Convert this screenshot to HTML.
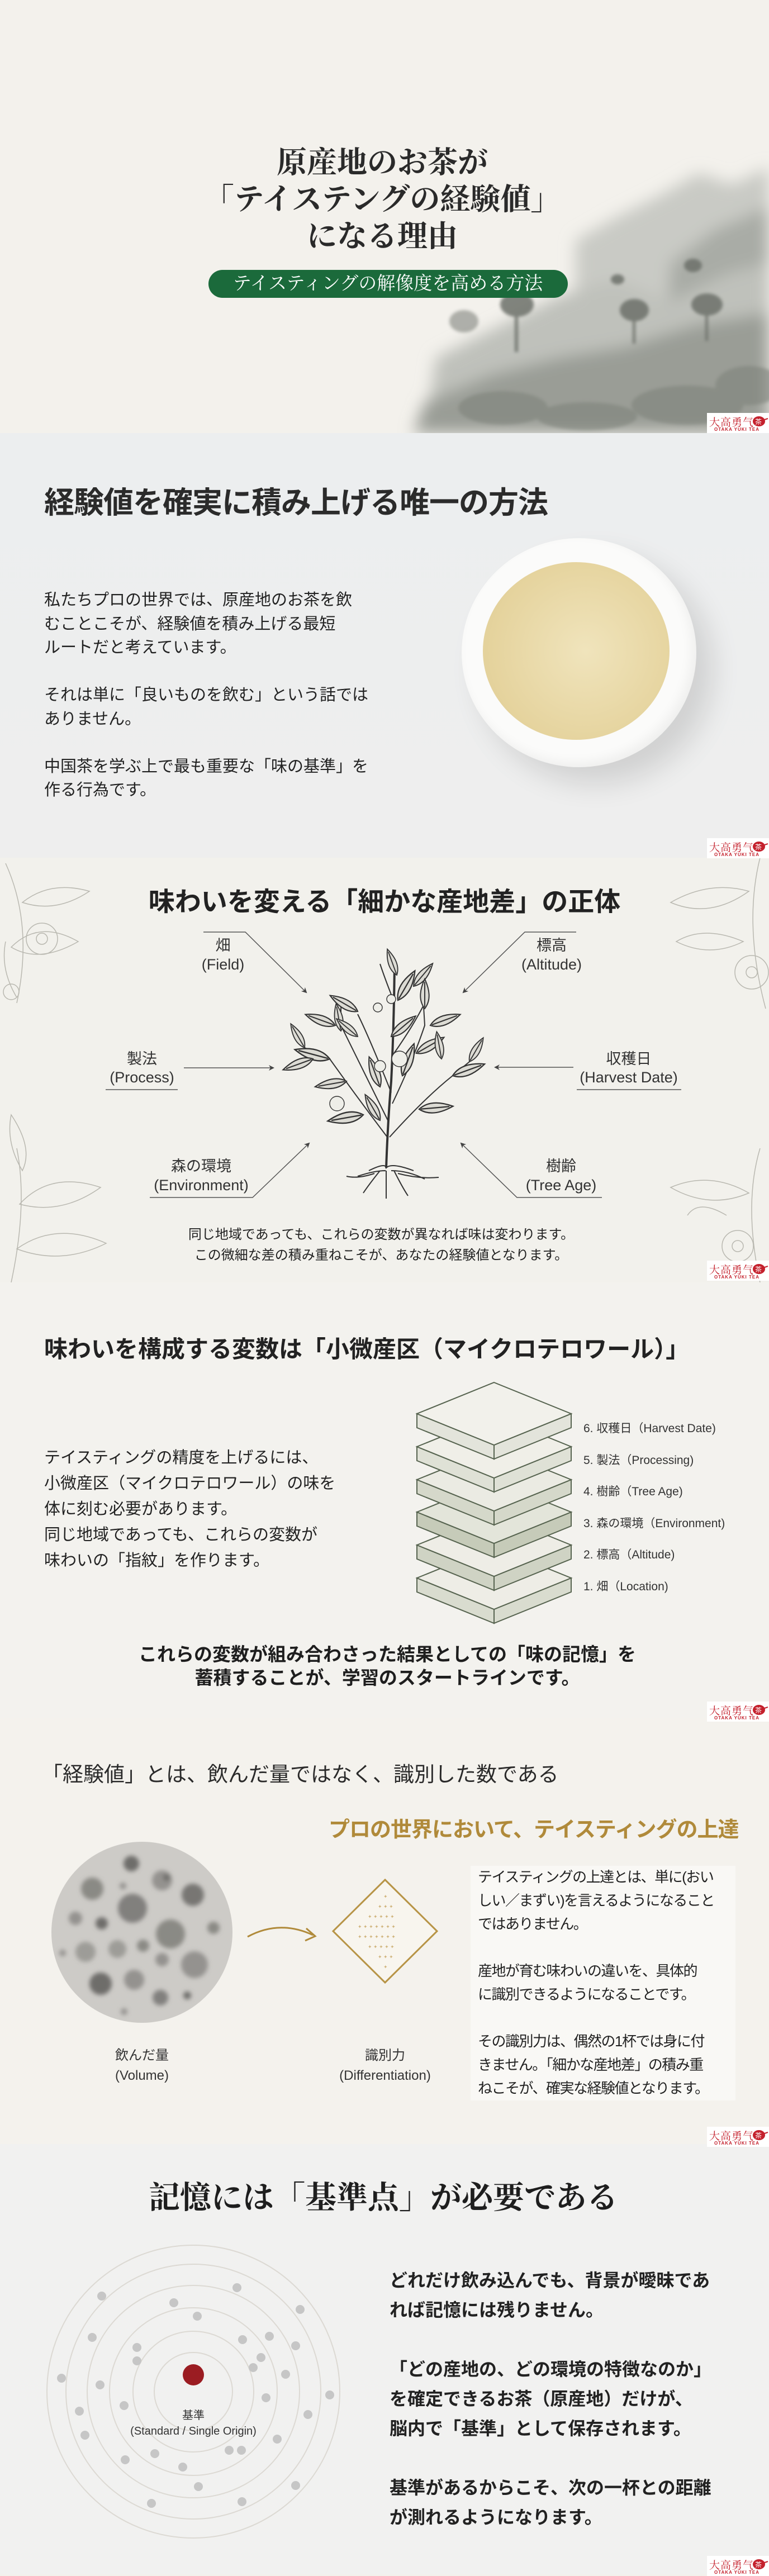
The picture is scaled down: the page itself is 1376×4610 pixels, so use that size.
<!DOCTYPE html>
<html><head><meta charset="utf-8">
<style>
*{margin:0;padding:0;box-sizing:border-box}
body{width:1376px;height:4607px;position:relative;overflow:hidden;background:#f2f1ec;font-family:"Liberation Sans","Noto Sans CJK JP",sans-serif;color:#222}
.sec{position:absolute;left:0;width:1376px;overflow:hidden}
.t{position:absolute;white-space:nowrap}
.c{transform:translateX(-50%);text-align:center}
.serif{font-family:"Liberation Serif","Noto Serif CJK SC",serif}
.logo{position:absolute;right:0;width:111px;height:36px;background:#fff;z-index:5}
.logo .a{position:absolute;left:4px;top:2px;font-family:"Liberation Serif","Noto Serif CJK SC",serif;font-size:19px;color:#c4202c;letter-spacing:1px}
.logo .b{position:absolute;left:13px;top:25px;font-size:8px;color:#c4202c;letter-spacing:1px;font-weight:bold}
.logo svg{position:absolute;left:80px;top:2px}
</style></head><body>

<!-- S1 hero -->
<div class="sec" style="top:0;height:775px;background:#f3f1ec">
<svg width="1376" height="775" style="position:absolute;left:0;top:0">
<defs>
<filter id="bl"><feGaussianBlur stdDeviation="14"/></filter>
<filter id="bl2"><feGaussianBlur stdDeviation="3"/></filter>
<linearGradient id="fade" x1="0" x2="1" y1="0" y2="0"><stop offset="0" stop-color="#f3f1ec" stop-opacity="1"/><stop offset="0.25" stop-color="#f3f1ec" stop-opacity="0"/></linearGradient>
</defs>
<g filter="url(#bl)">
<path d="M1030,430 L1100,390 L1180,350 L1250,310 L1310,330 L1376,300 L1376,775 L1030,775Z" fill="#c9cac5"/>
<path d="M1200,470 L1280,410 L1376,370 L1376,775 L1180,775Z" fill="#a9aca6"/>
<path d="M780,640 L900,580 L1000,530 L1100,500 L1200,540 L1300,490 L1376,470 L1376,775 L760,775Z" fill="#bfc1bb"/>
<path d="M760,720 L880,670 L1000,640 L1120,620 L1250,580 L1376,560 L1376,775 L740,775Z" fill="#9a9d96"/>
</g>
<g filter="url(#bl2)" fill="#6d716a" opacity="0.85">
<ellipse cx="925" cy="545" rx="30" ry="22"/><rect x="921" y="560" width="6" height="70"/>
<ellipse cx="1135" cy="555" rx="26" ry="20"/><rect x="1132" y="570" width="5" height="45"/>
<ellipse cx="1265" cy="545" rx="28" ry="20"/><rect x="1262" y="560" width="5" height="50"/>
<ellipse cx="1240" cy="475" rx="16" ry="12"/><ellipse cx="1105" cy="500" rx="12" ry="9"/>
<ellipse cx="830" cy="575" rx="26" ry="20" opacity=".6"/>
</g>
<g filter="url(#bl2)" fill="#7f837b" opacity="0.6">
<ellipse cx="900" cy="730" rx="80" ry="30"/><ellipse cx="1050" cy="745" rx="90" ry="25"/><ellipse cx="1230" cy="725" rx="100" ry="35"/><ellipse cx="1340" cy="690" rx="60" ry="35"/>
</g>
<rect x="0" y="0" width="1376" height="775" fill="url(#fade)"/>
</svg>
<div class="t c serif" style="left:684px;top:258px;font-size:54px;line-height:66px;color:#2a2a2a;font-weight:bold">原産地のお茶が<br>「テイステングの経験値」<br>になる理由</div>
<div style="position:absolute;left:373px;top:483px;width:643px;height:50px;border-radius:25px;background:#1b6a3b"></div>
<div class="t c serif" style="left:694px;top:486px;font-size:33px;line-height:44px;color:#fff">テイスティングの解像度を高める方法</div>
</div>

<!-- S2 -->
<div class="sec" style="top:775px;height:760px;background:linear-gradient(180deg,#eceeef,#eeeeee)">
<div class="t" style="left:79px;top:80px;font-size:54px;font-weight:bold;color:#2b2b2b;letter-spacing:-1px">経験値を確実に積み上げる唯一の方法</div>
<div class="t" style="left:79px;top:278px;font-size:29px;line-height:42.5px;color:#222">私たちプロの世界では、原産地のお茶を飲<br>むことこそが、経験値を積み上げる最短<br>ルートだと考えています。<br><br>それは単に「良いものを飲む」という話では<br>ありません。<br><br>中国茶を学ぶ上で最も重要な「味の基準」を<br>作る行為です。</div>
<div style="position:absolute;left:826px;top:188px;width:420px;height:410px;border-radius:50%;background:#fbfbfa;box-shadow:30px 30px 50px rgba(0,0,0,0.12),inset -8px -8px 20px rgba(0,0,0,0.05)"></div>
<div style="position:absolute;left:864px;top:231px;width:334px;height:318px;border-radius:50%;background:radial-gradient(circle at 55% 50%,#f0e4bc,#e5d39d 70%,#dccb95)"></div>
</div>

<!-- S3 -->
<div class="sec" style="top:1535px;height:760px;background:#f2f1ec">
<svg width="1376" height="760" style="position:absolute;left:0;top:0" fill="none" stroke="#b9b8b0" stroke-width="1.5">
<path d="M10,10 Q60,120 30,260"/><path d="M40,80 Q90,40 160,60 Q100,100 40,80Z"/><path d="M20,160 Q70,110 140,150 Q70,190 20,160Z"/><circle cx="75" cy="145" r="28"/><circle cx="75" cy="145" r="10"/><path d="M30,250 Q0,200 10,150"/><circle cx="20" cy="240" r="14"/>
<path d="M1360,0 Q1330,120 1370,270"/><path d="M1340,60 Q1270,40 1200,80 Q1270,110 1340,60Z"/><path d="M1330,150 Q1260,120 1210,150 Q1270,180 1330,150Z"/><circle cx="1345" cy="205" r="30"/><circle cx="1345" cy="205" r="10"/>
<path d="M20,760 Q50,620 30,520"/><path d="M35,620 Q90,560 180,590 Q110,640 35,620Z"/><path d="M30,700 Q100,650 190,690 Q110,730 30,700Z"/><path d="M40,560 Q10,510 20,460 Q60,520 40,560Z"/>
<path d="M1360,760 Q1330,620 1360,520"/><path d="M1340,600 Q1270,560 1200,590 Q1270,630 1340,600Z"/><circle cx="1320" cy="695" r="28"/><circle cx="1320" cy="695" r="10"/><path d="M1300,640 Q1250,610 1230,640"/>
</svg>
<div class="t c" style="left:688px;top:40px;font-size:47px;font-weight:bold;color:#222">味わいを変える「細かな産地差」の正体</div>
<svg width="1376" height="760" style="position:absolute;left:0;top:0" stroke="#555" stroke-width="1.5" fill="none">
<defs><marker id="ah" markerWidth="10" markerHeight="10" refX="8" refY="5" orient="auto" markerUnits="userSpaceOnUse"><path d="M0,0 L10,5 L0,10 L3,5Z" fill="#444" stroke="none"/></marker></defs>
<path d="M364,133 L439,133 L548,241" marker-end="url(#ah)"/>
<path d="M1031,133 L939,133 L829,241" marker-end="url(#ah)"/>
<path d="M329,376 L489,376" marker-end="url(#ah)"/>
<path d="M1026,375 L886,375" marker-end="url(#ah)"/>
<path d="M268,608 L452,608 L553,511" marker-end="url(#ah)"/>
<path d="M1077,608 L925,608 L825,511" marker-end="url(#ah)"/>
<path d="M189,415 L318,415"/><path d="M1032,415 L1219,415"/>
</svg>
<div class="t c" style="left:399px;top:140px;font-size:27px;line-height:34px;color:#333">畑<br>(Field)</div>
<div class="t c" style="left:987px;top:140px;font-size:27px;line-height:34px;color:#333">標高<br>(Altitude)</div>
<div class="t c" style="left:254px;top:344px;font-size:27px;line-height:33px;color:#333">製法<br>(Process)</div>
<div class="t c" style="left:1125px;top:344px;font-size:27px;line-height:33px;color:#333">収穫日<br>(Harvest Date)</div>
<div class="t c" style="left:360px;top:535px;font-size:27px;line-height:34px;color:#333">森の環境<br>(Environment)</div>
<div class="t c" style="left:1004px;top:535px;font-size:27px;line-height:34px;color:#333">樹齢<br>(Tree Age)</div>
<svg width="1376" height="760" style="position:absolute;left:0;top:0" stroke="#333" stroke-width="2" fill="none">
<defs><path id="lf" d="M0,0 Q14,-11 38,0 Q14,11 0,0Z M2,0 L34,0" fill="#dcdbd4" stroke="#333" stroke-width="1.4"/></defs>
<path d="M691,555 Q694,470 700,400 Q705,300 706,185" stroke-width="4"/>
<path d="M693,500 Q640,430 590,360 L545,340"/>
<path d="M694,470 Q640,360 610,300 L610,260"/>
<path d="M700,420 Q660,320 640,280"/>
<path d="M697,500 Q760,430 810,390 L840,365"/>
<path d="M702,440 Q740,360 760,300 L757,250"/>
<path d="M705,350 Q740,300 760,260"/>
<path d="M706,260 Q690,220 680,190"/>
<path d="M660,560 Q690,545 691,555 Q700,545 740,560 M640,570 Q670,560 690,560 M700,560 Q730,560 760,575 M691,560 L691,610 M680,560 Q660,585 650,600 M705,560 Q720,590 730,605 M670,565 Q640,575 620,570 M712,565 Q750,575 785,572"/>
<use href="#lf" transform="translate(640,275) rotate(-150) scale(1.5)"/>
<use href="#lf" transform="translate(712,255) rotate(-60) scale(1.6)"/>
<use href="#lf" transform="translate(710,210) rotate(-110) scale(1.3)"/>
<use href="#lf" transform="translate(740,230) rotate(-50) scale(1.4)"/>
<use href="#lf" transform="translate(760,270) rotate(-90) scale(1.4)"/>
<use href="#lf" transform="translate(770,300) rotate(-20) scale(1.5)"/>
<use href="#lf" transform="translate(600,300) rotate(-160) scale(1.5)"/>
<use href="#lf" transform="translate(610,310) rotate(-100) scale(1.3)"/>
<use href="#lf" transform="translate(640,320) rotate(-140) scale(1.3)"/>
<use href="#lf" transform="translate(700,320) rotate(-40) scale(1.5)"/>
<use href="#lf" transform="translate(590,360) rotate(-165) scale(1.7)"/>
<use href="#lf" transform="translate(545,340) rotate(-120) scale(1.3)"/>
<use href="#lf" transform="translate(560,360) rotate(160) scale(1.5)"/>
<use href="#lf" transform="translate(620,400) rotate(170) scale(1.5)"/>
<use href="#lf" transform="translate(680,410) rotate(-110) scale(1.5)"/>
<use href="#lf" transform="translate(720,390) rotate(-70) scale(1.6)"/>
<use href="#lf" transform="translate(745,350) rotate(-30) scale(1.5)"/>
<use href="#lf" transform="translate(790,360) rotate(-100) scale(1.3)"/>
<use href="#lf" transform="translate(810,390) rotate(-20) scale(1.6)"/>
<use href="#lf" transform="translate(840,365) rotate(-60) scale(1.3)"/>
<use href="#lf" transform="translate(750,450) rotate(-5) scale(1.6)"/>
<use href="#lf" transform="translate(650,460) rotate(170) scale(1.7)"/>
<use href="#lf" transform="translate(680,470) rotate(-120) scale(1.4)"/>
<g fill="#eeeee8" stroke-width="1.4"><circle cx="700" cy="253" r="8"/><circle cx="676" cy="268" r="8"/><circle cx="715" cy="360" r="14"/><circle cx="603" cy="440" r="13"/><circle cx="680" cy="373" r="10"/></g>
</svg>
<div class="t c" style="left:682px;top:656px;font-size:24px;line-height:37px;color:#222">同じ地域であっても、これらの変数が異なれば味は変わります。<br>この微細な差の積み重ねこそが、あなたの経験値となります。</div>
</div>

<!-- S4 -->
<div class="sec" style="top:2295px;height:780px;background:#f3f2ee">
<div class="t" style="left:79px;top:86px;font-size:42px;font-weight:bold;color:#222">味わいを構成する変数は「小微産区（マイクロテロワール）」</div>
<div class="t" style="left:79px;top:291px;font-size:29px;line-height:46px;color:#222">テイスティングの精度を上げるには、<br>小微産区（マイクロテロワール）の味を<br>体に刻む必要があります。<br>同じ地域であっても、これらの変数が<br>味わいの「指紋」を作ります。</div>
<svg width="1376" height="780" style="position:absolute;left:0;top:0" stroke="#56634f" stroke-width="2">
<g>
<path d="M746,529 L884,585 L884,610 L746,554Z M1022,529 L884,585 L884,610 L1022,554Z" fill="#d9dccf"/>
<path d="M884,473 L1022,529 L884,585 L746,529Z" fill="#eeede6"/>
<path d="M746,529 L884,585 L884,610 L746,554Z M1022,529 L884,585 L884,610 L1022,554Z" fill="#cfd3c4" transform="translate(0,-59)"/>
<path d="M884,473 L1022,529 L884,585 L746,529Z" fill="#eeede6" transform="translate(0,-59)"/>
<path d="M746,529 L884,585 L884,610 L746,554Z M1022,529 L884,585 L884,610 L1022,554Z" fill="#c6cbb9" transform="translate(0,-118)"/>
<path d="M884,473 L1022,529 L884,585 L746,529Z" fill="#e3e5da" transform="translate(0,-118)"/>
<path d="M746,529 L884,585 L884,610 L746,554Z M1022,529 L884,585 L884,610 L1022,554Z" fill="#d5d8ca" transform="translate(0,-176)"/>
<path d="M884,473 L1022,529 L884,585 L746,529Z" fill="#ebebe3" transform="translate(0,-176)"/>
<path d="M746,529 L884,585 L884,610 L746,554Z M1022,529 L884,585 L884,610 L1022,554Z" fill="#dfe1d6" transform="translate(0,-235)"/>
<path d="M884,473 L1022,529 L884,585 L746,529Z" fill="#f0efe8" transform="translate(0,-235)"/>
<path d="M746,529 L884,585 L884,610 L746,554Z M1022,529 L884,585 L884,610 L1022,554Z" fill="#e3e4db" transform="translate(0,-294)"/>
<path d="M884,473 L1022,529 L884,585 L746,529Z" fill="#f2f1eb" transform="translate(0,-294)"/>
</g>
</svg>
<div class="t" style="left:1044px;top:234px;font-size:21px;line-height:56.6px;color:#333">6. 収穫日（Harvest Date)<br>5. 製法（Processing)<br>4. 樹齢（Tree Age)<br>3. 森の環境（Environment)<br>2. 標高（Altitude)<br>1. 畑（Location)</div>
<div class="t c" style="left:693px;top:645px;font-size:33px;line-height:42px;font-weight:bold;color:#1e1e1e">これらの変数が組み合わさった結果としての「味の記憶」を<br>蓄積することが、学習のスタートラインです。</div>
</div>

<!-- S5 -->
<div class="sec" style="top:3075px;height:762px;background:#f4f2ed">
<div class="t" style="left:75px;top:70px;font-size:37px;color:#2a2a2a">「経験値」とは、飲んだ量ではなく、識別した数である</div>
<div class="t" style="left:588px;top:168px;font-size:38px;font-weight:bold;color:#b08a3a;letter-spacing:-1px">プロの世界において、テイスティングの上達</div>
<svg width="1376" height="762" style="position:absolute;left:0;top:0">
<defs><filter id="sb"><feGaussianBlur stdDeviation="4"/></filter></defs>
<circle cx="254" cy="383" r="162" fill="#cdcbc7"/>
<g filter="url(#sb)" fill="#6e6d6a">
<circle cx="235" cy="260" r="14"/><circle cx="290" cy="290" r="18" opacity=".6"/><circle cx="165" cy="305" r="20" opacity=".7"/><circle cx="345" cy="316" r="20" opacity=".9"/><circle cx="237" cy="340" r="26" opacity=".8"/><circle cx="135" cy="358" r="12" opacity=".6"/><circle cx="182" cy="367" r="11"/><circle cx="305" cy="386" r="26" opacity=".7"/><circle cx="382" cy="375" r="11" opacity=".7"/><circle cx="210" cy="413" r="16" opacity=".5"/><circle cx="153" cy="418" r="18" opacity=".5"/><circle cx="256" cy="407" r="11" opacity=".7"/><circle cx="348" cy="441" r="24" opacity=".6"/><circle cx="290" cy="432" r="12" opacity=".6"/><circle cx="180" cy="475" r="20"/><circle cx="240" cy="468" r="18" opacity=".6"/><circle cx="287" cy="500" r="14" opacity=".8"/><circle cx="335" cy="496" r="7"/><circle cx="298" cy="285" r="6"/><circle cx="220" cy="300" r="6" opacity=".6"/><circle cx="112" cy="420" r="6" opacity=".6"/><circle cx="222" cy="525" r="6" opacity=".6"/>
</g>
<path d="M443,391 Q500,360 560,388" stroke="#b08a3a" stroke-width="3" fill="none"/>
<path d="M548,376 L564,390 L546,398" stroke="#b08a3a" stroke-width="3" fill="none"/>
<path d="M689,289 L782,381 L689,473 L596,381Z" stroke="#b79446" stroke-width="3" fill="#f8f5ee"/>
<g fill="#cfb37a" font-size="9">
<text x="686" y="322">✦</text>
<text x="676" y="340">✦ ✦ ✦</text>
<text x="658" y="358">✦ ✦ ✦ ✦ ✦</text>
<text x="640" y="376">✦ ✦ ✦ ✦ ✦ ✦ ✦</text>
<text x="640" y="394">✦ ✦ ✦ ✦ ✦ ✦ ✦</text>
<text x="658" y="412">✦ ✦ ✦ ✦ ✦</text>
<text x="676" y="430">✦ ✦ ✦</text>
<text x="686" y="448">✦</text>
</g>
</svg>
<div class="t c" style="left:254px;top:586px;font-size:24px;line-height:36px;color:#333">飲んだ量<br>(Volume)</div>
<div class="t c" style="left:689px;top:586px;font-size:24px;line-height:36px;color:#333">識別力<br>(Differentiation)</div>
<div style="position:absolute;left:842px;top:264px;width:474px;height:420px;background:#f9f8f5"></div>
<div class="t" style="left:855px;top:263px;font-size:26px;line-height:42px;color:#222;letter-spacing:-1.5px">テイスティングの上達とは、単に(おい<br>しい／まずい)を言えるようになること<br>ではありません。<br><br>産地が育む味わいの違いを、具体的<br>に識別できるようになることです。<br><br>その識別力は、偶然の1杯では身に付<br>きません。「細かな産地差」の積み重<br>ねこそが、確実な経験値となります。</div>
</div>

<!-- S6 -->
<div class="sec" style="top:3837px;height:770px;background:#f1f1f0">
<div class="t c serif" style="left:686px;top:52px;font-size:56px;color:#1e1e1e;font-weight:bold">記憶には「基準点」が必要である</div>
<svg width="1376" height="770" style="position:absolute;left:0;top:0">
<g fill="none" stroke="#dcd9d3" stroke-width="2">
<circle cx="346" cy="443" r="262"/><circle cx="346" cy="443" r="228"/><circle cx="346" cy="443" r="190"/><circle cx="346" cy="443" r="150"/><circle cx="346" cy="443" r="108"/><circle cx="346" cy="443" r="70"/>
</g>
<circle cx="346" cy="413" r="19" fill="#9b1c22"/>
<g fill="#c6c6c6">
<circle cx="424" cy="257" r="8"/><circle cx="182" cy="272" r="8"/><circle cx="311" cy="284" r="8"/><circle cx="537" cy="296" r="8"/><circle cx="353" cy="308" r="8"/><circle cx="165" cy="346" r="8"/><circle cx="482" cy="344" r="8"/><circle cx="434" cy="350" r="8"/><circle cx="529" cy="361" r="8"/><circle cx="245" cy="364" r="8"/><circle cx="245" cy="388" r="8"/><circle cx="467" cy="382" r="8"/><circle cx="453" cy="400" r="8"/><circle cx="511" cy="412" r="8"/><circle cx="110" cy="419" r="8"/><circle cx="179" cy="431" r="8"/><circle cx="590" cy="449" r="8"/><circle cx="476" cy="454" r="8"/><circle cx="222" cy="468" r="8"/><circle cx="142" cy="478" r="8"/><circle cx="551" cy="484" r="8"/><circle cx="152" cy="521" r="8"/><circle cx="496" cy="528" r="8"/><circle cx="410" cy="548" r="8"/><circle cx="432" cy="548" r="8"/><circle cx="277" cy="554" r="8"/><circle cx="224" cy="565" r="8"/><circle cx="327" cy="578" r="8"/><circle cx="529" cy="611" r="8"/><circle cx="355" cy="613" r="8"/><circle cx="433" cy="640" r="8"/><circle cx="271" cy="643" r="8"/>
</g>
</svg>
<div class="t c" style="left:346px;top:472px;font-size:20px;line-height:28px;color:#333">基準<br>(Standard / Single Origin)</div>
<div class="t" style="left:697px;top:218px;font-size:32px;line-height:53px;font-weight:bold;color:#222">どれだけ飲み込んでも、背景が曖昧であ<br>れば記憶には残りません。<br><br>「どの産地の、どの環境の特徴なのか」<br>を確定できるお茶（原産地）だけが、<br>脳内で「基準」として保存されます。<br><br>基準があるからこそ、次の一杯との距離<br>が測れるようになります。</div>
</div>

<!-- logos -->
<div class="logo" style="top:739px"><span class="a">大高勇气</span><svg width="30" height="24"><ellipse cx="13" cy="13" rx="11" ry="9" fill="#c4202c"/><path d="M23,10 L29,8" stroke="#c4202c" stroke-width="2"/><text x="6" y="18" font-size="12" fill="#fff">茶</text></svg><span class="b">OTAKA YUKI TEA</span></div>
<div class="logo" style="top:1500px"><span class="a">大高勇气</span><svg width="30" height="24"><ellipse cx="13" cy="13" rx="11" ry="9" fill="#c4202c"/><path d="M23,10 L29,8" stroke="#c4202c" stroke-width="2"/><text x="6" y="18" font-size="12" fill="#fff">茶</text></svg><span class="b">OTAKA YUKI TEA</span></div>
<div class="logo" style="top:2256px"><span class="a">大高勇气</span><svg width="30" height="24"><ellipse cx="13" cy="13" rx="11" ry="9" fill="#c4202c"/><path d="M23,10 L29,8" stroke="#c4202c" stroke-width="2"/><text x="6" y="18" font-size="12" fill="#fff">茶</text></svg><span class="b">OTAKA YUKI TEA</span></div>
<div class="logo" style="top:3045px"><span class="a">大高勇气</span><svg width="30" height="24"><ellipse cx="13" cy="13" rx="11" ry="9" fill="#c4202c"/><path d="M23,10 L29,8" stroke="#c4202c" stroke-width="2"/><text x="6" y="18" font-size="12" fill="#fff">茶</text></svg><span class="b">OTAKA YUKI TEA</span></div>
<div class="logo" style="top:3806px"><span class="a">大高勇气</span><svg width="30" height="24"><ellipse cx="13" cy="13" rx="11" ry="9" fill="#c4202c"/><path d="M23,10 L29,8" stroke="#c4202c" stroke-width="2"/><text x="6" y="18" font-size="12" fill="#fff">茶</text></svg><span class="b">OTAKA YUKI TEA</span></div>
<div class="logo" style="top:4574px"><span class="a">大高勇气</span><svg width="30" height="24"><ellipse cx="13" cy="13" rx="11" ry="9" fill="#c4202c"/><path d="M23,10 L29,8" stroke="#c4202c" stroke-width="2"/><text x="6" y="18" font-size="12" fill="#fff">茶</text></svg><span class="b">OTAKA YUKI TEA</span></div>
</body></html>
